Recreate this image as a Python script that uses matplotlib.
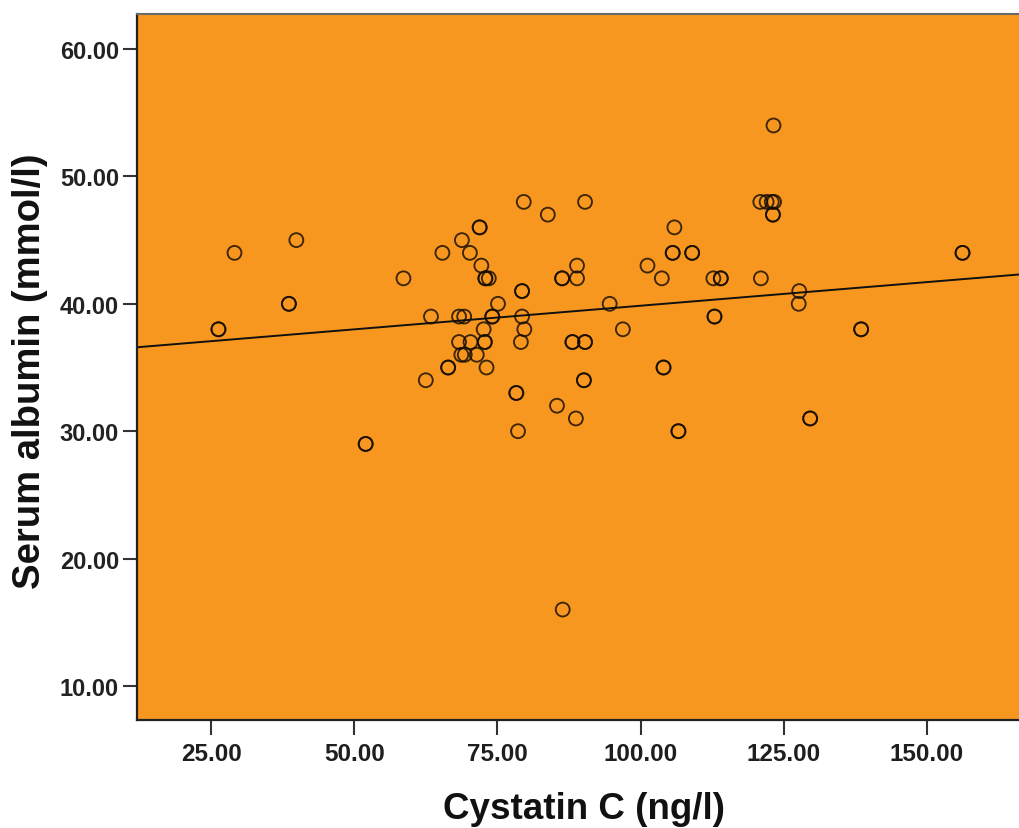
import matplotlib
matplotlib.use("Agg")
import matplotlib.pyplot as plt
import numpy as np

# Data (Cystatin C vs Serum albumin); repeated entries = overlapping points
cystatin_c = [26.3, 26.3, 29.1, 38.6, 38.6, 39.9, 52.0, 52.0, 58.6, 62.5, 63.4, 65.4,
              66.4, 66.4, 68.3, 69.2, 68.3, 70.3, 72.8, 72.8, 68.7, 69.3, 71.4, 68.8,
              70.2, 71.9, 71.9, 72.2, 72.9, 72.9, 73.5, 72.6, 73.1, 74.1, 74.1, 75.1,
              78.3, 78.3, 78.6, 79.3, 79.3, 79.3, 79.7, 79.1, 79.6, 83.8, 85.4, 86.4,
              86.3, 86.3, 88.9, 88.9, 88.7, 88.1, 88.1, 90.3, 90.3, 90.1, 90.1, 90.3,
              94.6, 96.9, 101.2, 103.7, 104.0, 104.0, 105.9, 105.6, 105.6, 109.0, 109.0,
              106.6, 106.6, 112.7, 114.0, 114.0, 112.9, 112.9, 120.9, 122.0, 122.9, 123.3,
              121.0, 123.2, 123.1, 123.1, 127.7, 127.6, 129.6, 129.6, 138.5, 138.5,
              156.2, 156.2]
serum_albumin = [38, 38, 44, 40, 40, 45, 29, 29, 42, 34, 39, 44,
                 35, 35, 39, 39, 37, 37, 37, 37, 36, 36, 36, 45,
                 44, 46, 46, 43, 42, 42, 42, 38, 35, 39, 39, 40,
                 33, 33, 30, 41, 41, 39, 38, 37, 48, 47, 32, 16,
                 42, 42, 42, 43, 31, 37, 37, 37, 37, 34, 34, 48,
                 40, 38, 43, 42, 35, 35, 46, 44, 44, 44, 44,
                 30, 30, 42, 42, 42, 39, 39, 48, 48, 48, 48,
                 42, 54, 47, 47, 41, 40, 31, 31, 38, 38,
                 44, 44]

# Fit line
fit_intercept = 36.14
fit_slope = 0.0371

x_ticks = [25, 50, 75, 100, 125, 150]
y_ticks = [10, 20, 30, 40, 50, 60]
x_label = "Cystatin C (ng/l)"
y_label = "Serum albumin (mmol/l)"

W, H = 1019, 829
fig = plt.figure(figsize=(W / 100, H / 100), dpi=100)
fig.patch.set_facecolor("white")
left, right, top, bottom = 137, 1019, 15, 721
ax = fig.add_axes([left / W, 1 - bottom / H, (right - left) / W, (bottom - top) / H])
ax.set_facecolor("#F8971F")

ax.scatter(cystatin_c, serum_albumin, s=100, facecolors="none",
           edgecolors="#140c02", linewidths=1.35, alpha=0.82, zorder=3)

xlim = (12.08, 166.06)
xs = np.array(xlim)
ax.plot(xs, fit_intercept + fit_slope * xs, color="#111111", lw=1.4, zorder=2)

ax.set_xlim(*xlim)
ax.set_ylim(7.33, 62.75)
ax.set_xticks(x_ticks)
ax.set_yticks(y_ticks)
ax.set_xticklabels([f"{v:.2f}" for v in x_ticks])
ax.set_yticklabels([f"{v:.2f}" for v in y_ticks])

fam = ["Liberation Sans", "DejaVu Sans"]
for lab in ax.get_xticklabels():
    lab.set_fontfamily(fam)
    lab.set_fontweight("bold")
    lab.set_fontsize(17.5)
    lab.set_color("#1e1e1e")
for lab in ax.get_yticklabels():
    lab.set_fontfamily(fam)
    lab.set_fontweight("bold")
    lab.set_fontsize(17)
    lab.set_color("#222222")

ax.tick_params(axis="x", direction="out", length=11, width=1.5, pad=5, color="#333333")
ax.tick_params(axis="y", direction="out", length=10, width=1.5, pad=3, color="#333333")

ax.spines["right"].set_visible(False)
ax.spines["top"].set_color("#6a6a6a")
ax.spines["top"].set_linewidth(1.5)
for s in ("left", "bottom"):
    ax.spines[s].set_color("#222222")
    ax.spines[s].set_linewidth(1.6)

fig.text(30 / W, 1 - 371 / H, y_label, rotation=90, ha="center", va="center",
         fontsize=27.5, fontweight="bold", family=fam, color="#111111")
fig.text(584 / W, 1 - 810 / H, x_label, ha="center", va="center",
         fontsize=26.5, fontweight="bold", family=fam, color="#111111")

fig.savefig("out.png", dpi=100, facecolor="white")
